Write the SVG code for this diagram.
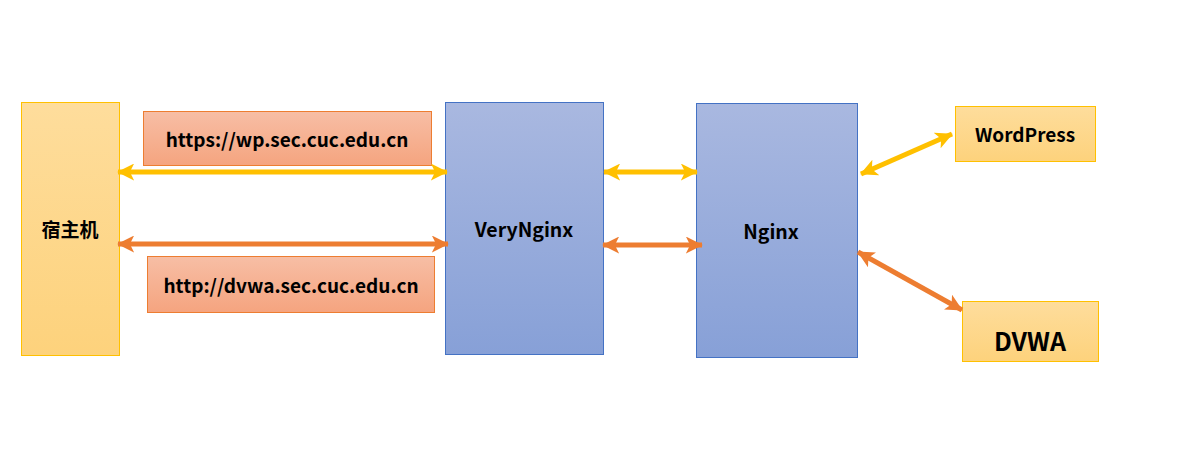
<svg xmlns="http://www.w3.org/2000/svg" width="1180" height="451" viewBox="0 0 1180 451">
<defs>
<linearGradient id="gY" x1="0" y1="0" x2="0" y2="1"><stop offset="0" stop-color="#FEDD9C"/><stop offset="1" stop-color="#FDD27C"/></linearGradient>
<linearGradient id="gO" x1="0" y1="0" x2="0" y2="1"><stop offset="0" stop-color="#F7BEA5"/><stop offset="1" stop-color="#F5A47F"/></linearGradient>
<linearGradient id="gB" x1="0" y1="0" x2="0" y2="1"><stop offset="0" stop-color="#A9B8E0"/><stop offset="1" stop-color="#87A0D7"/></linearGradient>
<marker id="mY" viewBox="0 0 10 10" refX="9.5" refY="5" markerWidth="17" markerHeight="17" orient="auto-start-reverse" markerUnits="userSpaceOnUse"><path d="M0,0 L10,5 L0,10 L2.5,5 Z" fill="#FFC000"/></marker>
<marker id="mO" viewBox="0 0 10 10" refX="9.5" refY="5" markerWidth="17" markerHeight="17" orient="auto-start-reverse" markerUnits="userSpaceOnUse"><path d="M0,0 L10,5 L0,10 L2.5,5 Z" fill="#ED7D31"/></marker>
</defs>
<style>
.t{font-family:"Noto Sans CJK SC","Open Sans","Liberation Sans",sans-serif;font-weight:bold;fill:#000;text-anchor:middle;dominant-baseline:central}
.yl{fill:url(#gY);stroke:#FFC000;stroke-width:1}
.or{fill:url(#gO);stroke:#ED7D31;stroke-width:1}
.bl{fill:url(#gB);stroke:#4472C4;stroke-width:1}
.ay{stroke:#FFC000;stroke-width:5;fill:none;marker-start:url(#mY);marker-end:url(#mY)}
.ao{stroke:#ED7D31;stroke-width:5;fill:none;marker-start:url(#mO);marker-end:url(#mO)}
</style>
<rect width="1180" height="451" fill="#fff"/>
<g id="host"><rect class="yl" x="21.5" y="102.5" width="98" height="253"/><text class="t" x="70" y="228" font-size="19">宿主机</text></g>
<g id="url1"><rect class="or" x="143.5" y="111.5" width="288" height="54"/><text class="t" x="287" y="138" font-size="19">https://wp.sec.cuc.edu.cn</text></g>
<g id="url2"><rect class="or" x="147.5" y="256.5" width="287" height="56"/><text class="t" x="291" y="284" font-size="19">http://dvwa.sec.cuc.edu.cn</text></g>
<g id="verynginx"><rect class="bl" x="445.5" y="102.5" width="158" height="252"/><text class="t" x="524" y="228" font-size="19.5">VeryNginx</text></g>
<g id="nginx"><rect class="bl" x="696.5" y="103.5" width="161" height="254"/><text class="t" x="771" y="230" font-size="19.5">Nginx</text></g>
<g id="wordpress"><rect class="yl" x="955.5" y="106.5" width="140" height="55"/><text class="t" x="1025" y="133" font-size="19">WordPress</text></g>
<g id="dvwa"><rect class="yl" x="962.5" y="301.5" width="136" height="60"/><text class="t" x="1030" y="340" font-size="25">DVWA</text></g>
<g id="connectors">
<line class="ay" x1="118" y1="172" x2="447" y2="172"/>
<line class="ao" x1="118" y1="244" x2="448" y2="244"/>
<line class="ay" x1="604" y1="172" x2="697" y2="172"/>
<line class="ao" x1="603" y1="245" x2="702" y2="245"/>
<line class="ay" x1="861" y1="174" x2="952" y2="134"/>
<line class="ao" x1="858" y1="252" x2="962" y2="310"/>
</g>
</svg>
